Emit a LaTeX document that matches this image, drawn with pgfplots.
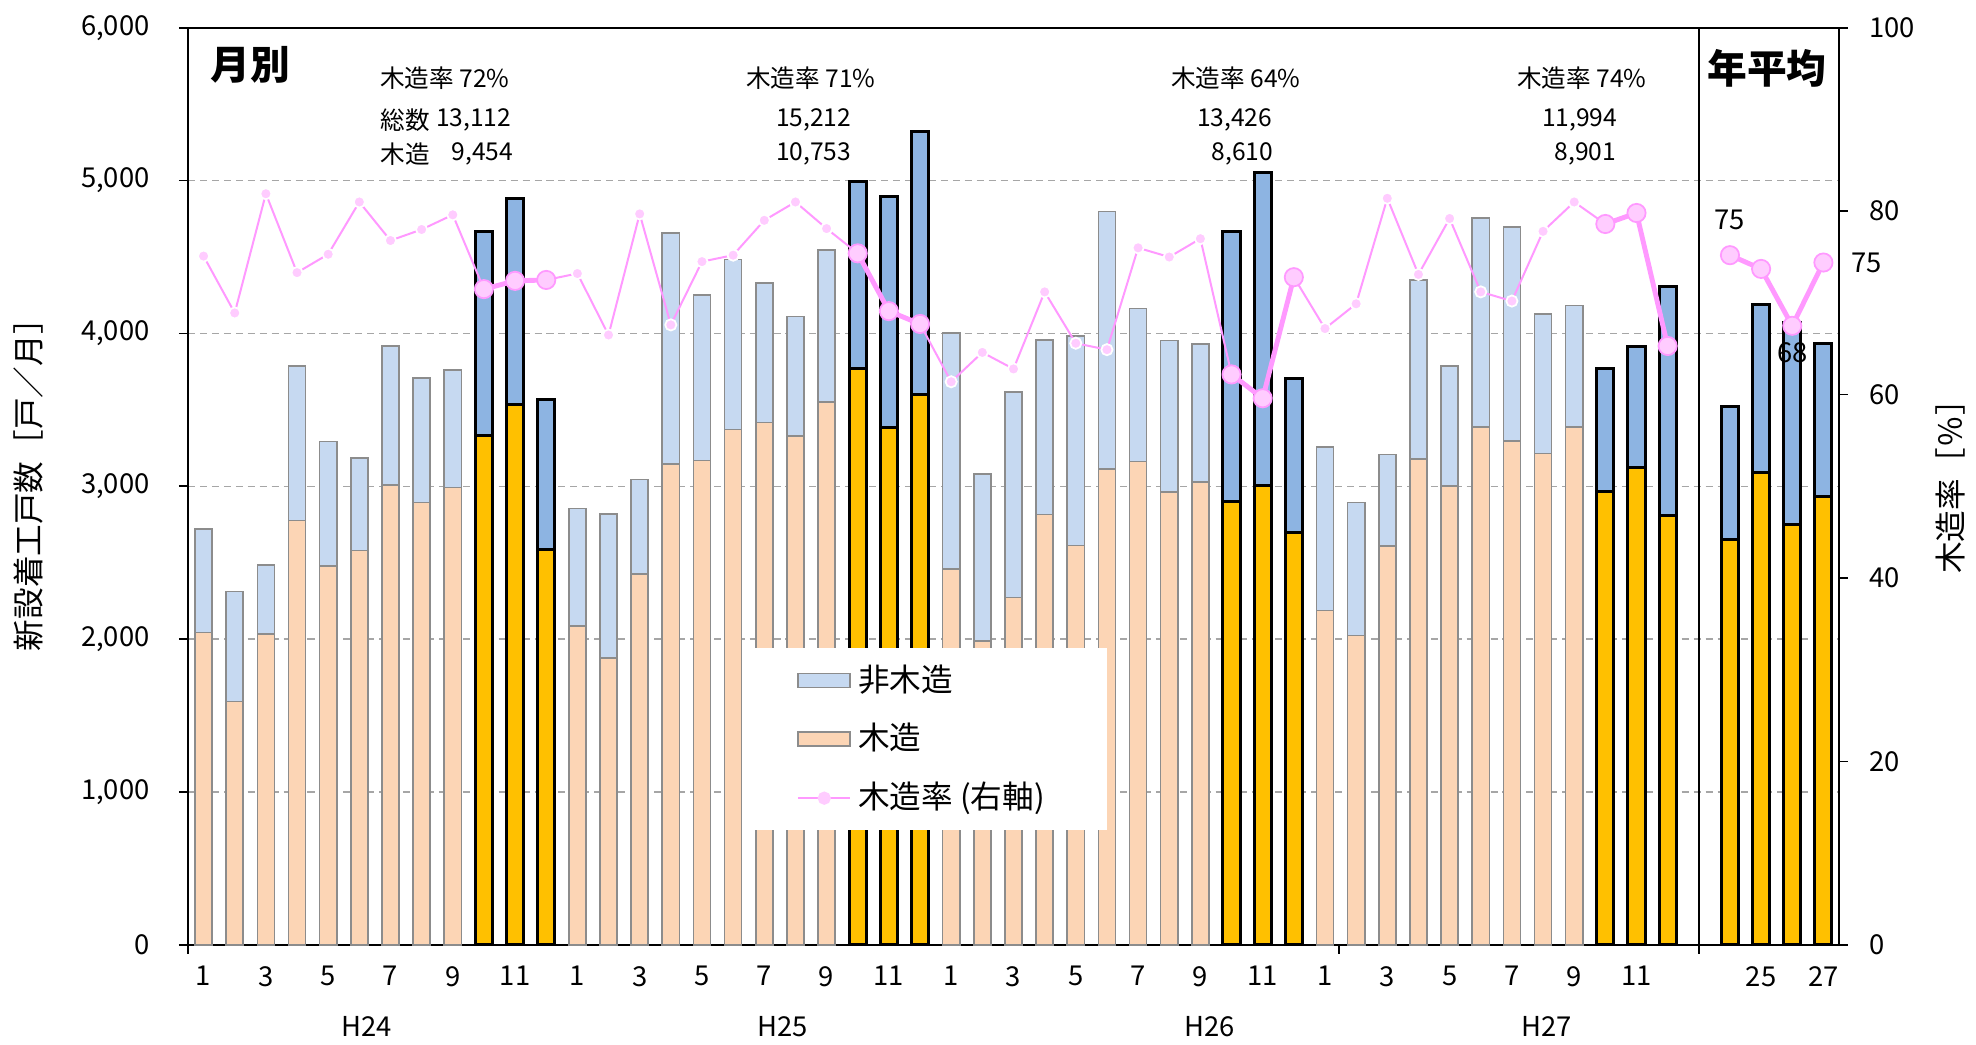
\documentclass[border=0pt]{standalone}
\usepackage{fontspec}
\setmainfont{Noto Sans CJK JP}
\usepackage{pgfplots}
\pgfplotsset{compat=1.18}
\usepackage{pgfplotstable}

\definecolor{nwood}{HTML}{C6D9F1}
\definecolor{wood}{HTML}{FCD5B5}
\definecolor{nwoodhi}{HTML}{8DB4E2}
\definecolor{woodhi}{HTML}{FFC000}
\definecolor{baredge}{HTML}{8C8C8C}
\definecolor{rateline}{HTML}{FF99FF}
\definecolor{ratefill}{HTML}{FFCCFF}
\definecolor{gridc}{HTML}{A6A6A6}

% monthly bars, ordinary months (x = slot number)
\pgfplotstableread{
x wood total
1 2045 2722
2 1594 2313
3 2036 2486
4 2777 3789
5 2479 3294
6 2581 3185
7 3009 3917
8 2894 3709
9 2993 3760
13 2088 2854
14 1876 2820
15 2427 3046
16 3148 4656
17 3170 4253
18 3373 4483
19 3418 4329
20 3329 4110
21 3550 4545
25 2458 4004
26 1988 3079
27 2272 3617
28 2817 3959
29 2613 3982
30 3113 4799
31 3163 4163
32 2964 3953
33 3027 3933
37 2188 3256
38 2024 2894
39 2611 3208
40 3179 4351
41 3002 3789
42 3387 4757
43 3298 4698
44 3214 4129
45 3387 4183
}\tabnormal

% Oct-Dec of each year, then yearly averages H24-H27
\pgfplotstableread{
x wood total
10 3335 4665
11 3535 4882
12 2584 3565
22 3768 4995
23 3382 4893
24 3603 5324
34 2903 4668
35 3008 5051
36 2699 3707
46 2965 3771
47 3125 3917
48 2811 4306
50 2652 3523
51 3091 4192
52 2752 4075
53 2931 3937
}\tabhi

% wood ratio, every month
\pgfplotstableread{
x r
1 75.1
2 68.9
3 81.9
4 73.3
5 75.3
6 81.0
7 76.8
8 78.0
9 79.6
10 71.5
11 72.4
12 72.5
13 73.2
14 66.5
15 79.7
16 67.6
17 74.5
18 75.2
19 79.0
20 81.0
21 78.1
22 75.4
23 69.1
24 67.7
25 61.4
26 64.6
27 62.8
28 71.2
29 65.6
30 64.9
31 76.0
32 75.0
33 77.0
34 62.2
35 59.6
36 72.8
37 67.2
38 69.9
39 81.4
40 73.1
41 79.2
42 71.2
43 70.2
44 77.8
45 81.0
46 78.6
47 79.8
48 65.3
}\tabrate

% wood ratio, Oct-Dec groups and yearly averages (nan breaks the line)
\pgfplotstableread{
x r
10 71.5
11 72.4
12 72.5
12.5 nan
22 75.4
23 69.1
24 67.7
24.5 nan
34 62.2
35 59.6
36 72.8
36.5 nan
46 78.6
47 79.8
48 65.3
49 nan
50 75.2
51 73.7
52 67.5
53 74.4
}\tabhirate

\pgfplotsset{
  /pgf/number format/assume math mode=true,
  /pgf/number format/1000 sep={,},
  tick label style={font=\fontsize{7.8}{9}\selectfont},
  rectlegend/.style={legend image code/.code={\draw[##1] (0cm,-0.07cm) rectangle (0.52cm,0.07cm);}},
  linelegend/.style={legend image code/.code={\draw[##1, mark repeat=2, mark phase=2]
    plot coordinates {(0cm,0cm) (0.26cm,0cm) (0.52cm,0cm)};}},
}

\begin{document}
\begin{tikzpicture}
\useasboundingbox (0,0) rectangle (19.76cm,10.45cm);

\begin{axis}[
  at={(1.88cm,1.00cm)}, anchor=south west,
  width=16.51cm, height=9.173cm, scale only axis,
  xmin=0.5, xmax=53.5, ymin=0, ymax=6000,
  enlargelimits=false,
  clip=false,
  xtick={1,3,...,53},
  xticklabels={1,3,5,7,9,11,1,3,5,7,9,11,1,3,5,7,9,11,1,3,5,7,9,11,,25,27},
  xtick style={draw=none},
  ytick={0,1000,...,6000},
  ytick pos=left,
  tick align=outside,
  major tick length=0.09cm,
  tick style={black, line width=0.5pt},
  yticklabel style={xshift=-0.17cm},
  ymajorgrids,
  major grid style={gridc, line width=0.45pt, dash pattern=on 2pt off 1.4pt},
  axis line style={black, line width=0.6pt},
  every axis y label/.style={at={(axis description cs:-0.0969,0.510)}, rotate=90, anchor=center},
  ylabel={\fontsize{9}{10}\selectfont 新設着工戸数［戸／月］},
  legend style={draw=none, fill=white, at={(0.3353,0.3241)}, anchor=north west,
    font=\fontsize{9}{10}\selectfont, inner xsep=0.55cm, inner ysep=0.09cm,
    row sep=0.13cm, cells={anchor=west}},
  legend cell align=left,
]
\addplot[ybar, bar width=0.55, bar shift=0pt, fill=nwood, draw=baredge, line width=0.45pt, rectlegend]
  table[x=x, y=total]{\tabnormal};
\addlegendentry{非木造}
\addplot[ybar, bar width=0.55, bar shift=0pt, fill=wood, draw=baredge, line width=0.45pt, rectlegend]
  table[x=x, y=wood]{\tabnormal};
\addlegendentry{木造}
\addplot[ybar, bar width=0.55, bar shift=0pt, fill=nwoodhi, draw=black, line width=0.85pt, forget plot]
  table[x=x, y=total]{\tabhi};
\addplot[ybar, bar width=0.55, bar shift=0pt, fill=woodhi, draw=black, line width=0.85pt, forget plot]
  table[x=x, y=wood]{\tabhi};
\addlegendimage{rateline, line width=0.57pt, mark=*, mark size=1.6pt,
  mark options={fill=ratefill, draw=ratefill}, linelegend}
\addlegendentry{木造率 (右軸)}
\draw[black, line width=0.5pt] ([yshift=-0.09cm]axis cs:49,0) -- (axis cs:49,6000);
\draw[black, line width=0.5pt] (axis cs:37.45,0) -- ([yshift=-0.09cm]axis cs:37.45,0);
\draw[black, line width=0.6pt] (axis cs:0.5,0) -- ([yshift=-0.09cm]axis cs:0.5,0);
\end{axis}

\begin{axis}[
  at={(1.88cm,1.00cm)}, anchor=south west,
  width=16.51cm, height=9.173cm, scale only axis,
  xmin=0.5, xmax=53.5, ymin=0, ymax=100,
  enlargelimits=false,
  clip=false,
  unbounded coords=jump,
  axis line style={draw=none},
  xtick=\empty,
  ytick={0,20,...,100},
  ytick pos=right, yticklabel pos=right,
  tick align=outside,
  major tick length=0.09cm,
  tick style={black, line width=0.5pt},
  yticklabel style={xshift=0.09cm},
  every axis y label/.style={at={(axis description cs:1.0678,0.508)}, rotate=90, anchor=center},
  ylabel={\fontsize{9}{10}\selectfont 木造率［％］},
]
\addplot[rateline, line width=0.57pt, mark=*, mark size=1.6pt,
  mark options={fill=ratefill, draw=white, line width=0.5pt}]
  table[x=x, y=r]{\tabrate};
\addplot[rateline, line width=1.4pt, mark=*, mark size=2.6pt,
  mark options={fill=ratefill, draw=rateline, line width=0.5pt}]
  table[x=x, y=r]{\tabhirate};
\node[font=\fontsize{7.8}{9}\selectfont] at (axis cs:50,75.2) [yshift=0.35cm] {75};
\node[font=\fontsize{7.8}{9}\selectfont] at (axis cs:52,67.5) [yshift=-0.27cm] {68};
\node[font=\fontsize{7.8}{9}\selectfont] at (axis cs:53,74.4) [xshift=0.43cm] {75};
\end{axis}

% panel titles and Oct-Dec summaries
\node[font=\fontsize{11.3}{12}\selectfont\bfseries] at (2.50cm,9.80cm) {月別};
\node[font=\fontsize{11.3}{12}\selectfont\bfseries] at (17.67cm,9.77cm) {年平均};
\begin{scope}[every node/.style={font=\fontsize{7}{8}\selectfont, inner sep=0pt}]
\node at (4.45cm,9.67cm) {木造率 72\%};
\node[anchor=west] at (3.80cm,9.25cm) {総数};
\node[anchor=east] at (5.12cm,9.25cm) {13,112};
\node[anchor=west] at (3.80cm,8.91cm) {木造};
\node[anchor=east] at (5.14cm,8.91cm) {9,454};
\node at (8.11cm,9.67cm) {木造率 71\%};
\node[anchor=east] at (8.52cm,9.25cm) {15,212};
\node[anchor=east] at (8.52cm,8.91cm) {10,753};
\node at (12.36cm,9.67cm) {木造率 64\%};
\node[anchor=east] at (12.73cm,9.25cm) {13,426};
\node[anchor=east] at (12.74cm,8.91cm) {8,610};
\node at (15.82cm,9.67cm) {木造率 74\%};
\node[anchor=east] at (16.18cm,9.25cm) {11,994};
\node[anchor=east] at (16.17cm,8.91cm) {8,901};
\end{scope}
% year labels under the month ticks
\begin{scope}[every node/.style={font=\fontsize{7.8}{9}\selectfont}]
\node at (3.67cm,0.184cm) {H24};
\node at (7.83cm,0.184cm) {H25};
\node at (12.10cm,0.184cm) {H26};
\node at (15.47cm,0.184cm) {H27};
\end{scope}
\end{tikzpicture}
\end{document}
